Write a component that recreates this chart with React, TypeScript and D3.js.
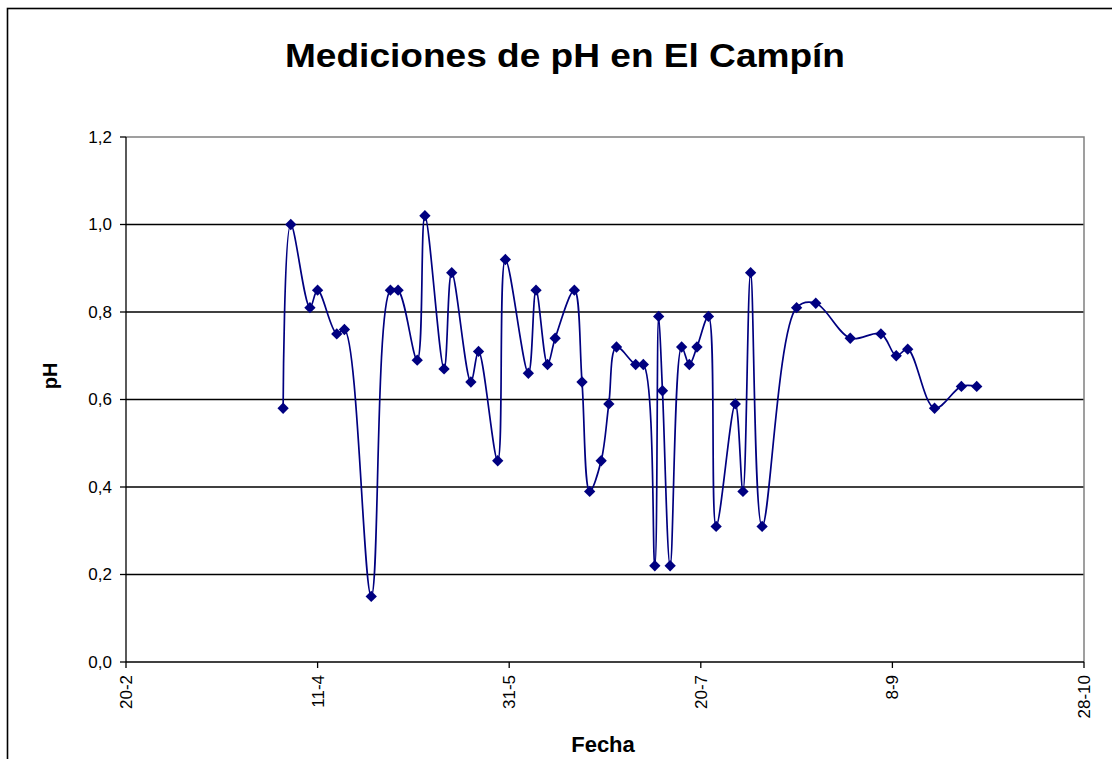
import React from "react";
import * as d3 from "d3";

// pH readings at El Campín (day-month, 2007)
const sampleDates = [
  "2-4", "4-4", "9-4", "11-4", "16-4", "18-4", "25-4", "30-4", "2-5", "7-5",
  "9-5", "14-5", "16-5", "21-5", "23-5", "28-5", "30-5", "5-6", "7-6", "10-6",
  "12-6", "17-6", "19-6", "21-6", "24-6", "26-6", "28-6", "3-7", "5-7", "8-7",
  "9-7", "10-7", "12-7", "15-7", "17-7", "19-7", "22-7", "24-7", "29-7", "31-7",
  "2-8", "5-8", "14-8", "19-8", "28-8", "5-9", "9-9", "12-9", "19-9", "26-9",
  "30-9",
];
const phValues = [
  0.58, 1.0, 0.81, 0.85, 0.75, 0.76, 0.15, 0.85, 0.85, 0.69,
  1.02, 0.67, 0.89, 0.64, 0.71, 0.46, 0.92, 0.66, 0.85, 0.68,
  0.74, 0.85, 0.64, 0.39, 0.46, 0.59, 0.72, 0.68, 0.68, 0.22,
  0.79, 0.62, 0.22, 0.72, 0.68, 0.72, 0.79, 0.31, 0.59, 0.39,
  0.89, 0.31, 0.81, 0.82, 0.74, 0.75, 0.70, 0.715, 0.58, 0.63,
  0.63,
];
const xTickLabels = ["20-2", "11-4", "31-5", "20-7", "8-9", "28-10"];
const yTickValues = [0, 0.2, 0.4, 0.6, 0.8, 1.0, 1.2];

const YEAR = 2007;
const parseDay = d3.utcParse("%d-%m-%Y");
const toDate = (s: string) => parseDay(`${s}-${YEAR}`) as Date;

const W = 1112;
const H = 759;
const plot = { left: 126, right: 1084, top: 137, bottom: 662 };
const FONT = "'Liberation Sans', Arial, sans-serif";
const NAVY = "#000080";

export default function App() {
  const xTicks = xTickLabels.map(toDate);
  const x = d3
    .scaleUtc()
    .domain([xTicks[0], xTicks[xTicks.length - 1]])
    .range([plot.left, plot.right]);
  const y = d3.scaleLinear().domain([0, 1.2]).range([plot.bottom, plot.top]);

  const points = sampleDates.map((d, i) => ({ date: toDate(d), value: phValues[i] }));

  const line = d3
    .line<{ date: Date; value: number }>()
    .x((d) => x(d.date))
    .y((d) => y(d.value))
    .curve(d3.curveCatmullRom.alpha(0.5));

  const marker = d3.symbol().type(d3.symbolSquare).size(64)() as string;
  const fmtY = (v: number) => d3.format(".1f")(v).replace(".", ",");

  return (
    <svg
      width={W}
      height={H}
      style={{ position: "absolute", left: 0, top: 0, background: "#fff" }}
      fontFamily={FONT}
    >
      {/* chart frame */}
      <rect x={7.5} y={8.5} width={1300} height={1000} fill="#fff" stroke="#000" strokeWidth={1.6} />

      <text
        x={565}
        y={67}
        textAnchor="middle"
        fontSize={34}
        fontWeight="bold"
        fill="#000"
        textLength={560}
        lengthAdjust="spacingAndGlyphs"
      >
        Mediciones de pH en El Campín
      </text>

      {/* horizontal gridlines */}
      {yTickValues
        .filter((v) => v > 0 && v < 1.2)
        .map((v) => (
          <line key={v} x1={plot.left} x2={plot.right} y1={y(v)} y2={y(v)} stroke="#000" strokeWidth={1.3} />
        ))}

      {/* plot area border (top & right) */}
      <path
        d={`M${plot.left},${plot.top}H${plot.right}V${plot.bottom}`}
        fill="none"
        stroke="#808080"
        strokeWidth={1.5}
      />

      {/* y axis */}
      <line x1={plot.left} x2={plot.left} y1={plot.top} y2={plot.bottom} stroke="#000" strokeWidth={1.3} />
      {yTickValues.map((v) => (
        <g key={v} transform={`translate(0,${y(v)})`}>
          <line x1={plot.left - 6} x2={plot.left} stroke="#000" strokeWidth={1.3} />
          <text x={plot.left - 14} dy="0.35em" textAnchor="end" fontSize={17} fill="#000">
            {fmtY(v)}
          </text>
        </g>
      ))}

      {/* x axis */}
      <line x1={plot.left} x2={plot.right} y1={plot.bottom} y2={plot.bottom} stroke="#000" strokeWidth={1.5} />
      {xTicks.map((d, i) => (
        <g key={i} transform={`translate(${x(d)},${plot.bottom})`}>
          <line y1={0} y2={6} stroke="#000" strokeWidth={1.3} />
          <text
            transform="translate(0,13) rotate(-90)"
            textAnchor="end"
            dy="0.35em"
            fontSize={17}
            fill="#000"
          >
            {xTickLabels[i]}
          </text>
        </g>
      ))}

      {/* series */}
      <path d={line(points) ?? ""} fill="none" stroke={NAVY} strokeWidth={1.7} />
      {points.map((p, i) => (
        <path
          key={i}
          d={marker}
          transform={`translate(${x(p.date)},${y(p.value)}) rotate(45)`}
          fill={NAVY}
        />
      ))}

      {/* axis titles */}
      <text
        transform="translate(57,376) rotate(-90)"
        textAnchor="middle"
        fontSize={20}
        fontWeight="bold"
        fill="#000"
      >
        pH
      </text>
      <text x={603} y={752} textAnchor="middle" fontSize={22} fontWeight="bold" fill="#000">
        Fecha
      </text>
    </svg>
  );
}
